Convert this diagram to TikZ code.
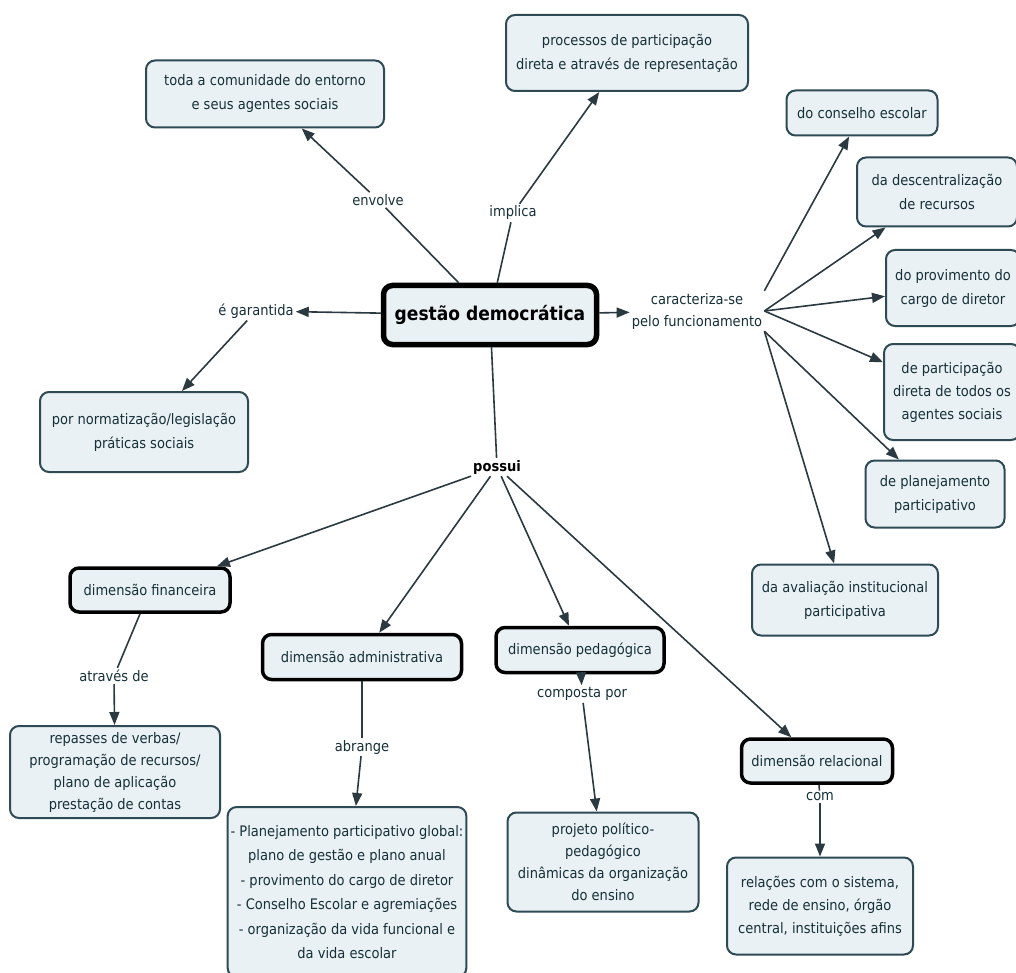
\documentclass[tikz,border=0pt]{standalone}
\usepackage{fontspec}
\setmainfont{DejaVu Sans Condensed}
\usetikzlibrary{arrows.meta}
\definecolor{boxc}{HTML}{EAF1F4}
\definecolor{bordc}{HTML}{2E4A55}
\definecolor{txtc}{HTML}{163038}
\definecolor{linec}{HTML}{2A3A40}
\begin{document}
\begin{tikzpicture}[x=1pt,y=-1pt,
  box/.style={draw=bordc, line width=2pt, fill=boxc, rounded corners=9pt, align=center,
    text=txtc, inner sep=3pt, font=\fontsize{14.5}{24}\selectfont},
  dimbox/.style={box, draw=black, line width=3.5pt},
  mainbox/.style={box, draw=black, line width=5.5pt, font=\fontsize{19}{24}\selectfont\bfseries, text=black},
  lbl/.style={text=txtc, align=center, inner sep=2pt, font=\fontsize{14.5}{24}\selectfont},
  conn/.style={draw=linec, line width=1.6pt},
  arr/.style={conn, -{Triangle[length=13pt,width=10pt]}}]
\useasboundingbox (0,0) rectangle (1016,973);
\clip (0,0) rectangle (1016,973);
\fill[white] (0,0) rectangle (1016,973);

% main
\node[mainbox, minimum width=213pt, minimum height=59pt] (main) at (490,315) {gestão democrática};

% top boxes
\node[box, minimum width=238pt, minimum height=67pt] (toda) at (265,94) {toda a comunidade do entorno\\e seus agentes sociais};
\node[box, minimum width=242pt, minimum height=76pt] (proc) at (627,53) {processos de participação\\direta e através de representação};

% right boxes
\node[box, minimum width=151pt, minimum height=45pt] (cons) at (862,113) {do conselho escolar};
\node[box, minimum width=160pt, minimum height=69pt] (desc) at (937,192) {da descentralização\\de recursos};
\node[box, minimum width=134pt, minimum height=76pt] (prov) at (953,288) {do provimento do\\cargo de diretor};
\node[box, minimum width=136pt, minimum height=96pt, font=\fontsize{14.5}{23}\selectfont] (part) at (952,392) {de participação\\direta de todos os\\agentes sociais};
\node[box, minimum width=139pt, minimum height=67pt] (plan) at (935,494) {de planejamento\\participativo};
\node[box, minimum width=186pt, minimum height=71pt] (aval) at (845,600) {da avaliação institucional\\participativa};

% left
\node[box, minimum width=208pt, minimum height=80pt] (norm) at (144,432) {por normatização/legislação\\práticas sociais};

% dimensions
\node[dimbox, minimum width=160pt, minimum height=44pt] (fin) at (150,590) {dimensão financeira};
\node[dimbox, minimum width=199pt, minimum height=45pt] (adm) at (362,657) {dimensão administrativa};
\node[dimbox, minimum width=168pt, minimum height=45pt] (ped) at (580,650) {dimensão pedagógica};
\node[dimbox, minimum width=151pt, minimum height=44pt] (rel) at (817,761) {dimensão relacional};

% bottom boxes
\node[box, minimum width=210pt, minimum height=92pt, font=\fontsize{14.5}{22}\selectfont] (rep) at (115,772) {repasses de verbas/\\programação de recursos/\\plano de aplicação\\prestação de contas};
\node[box, minimum width=230pt, minimum height=170pt, font=\fontsize{14.5}{24.5}\selectfont] (admb) at (347,892) {- Planejamento participativo global:\\plano de gestão e plano anual\\- provimento do cargo de diretor\\- Conselho Escolar e agremiações\\- organização da vida funcional e\\da vida escolar};
\node[box, minimum width=191pt, minimum height=99pt, font=\fontsize{14.5}{22}\selectfont] (proj) at (603,862) {projeto político-\\pedagógico\\dinâmicas da organização\\do ensino};
\node[box, minimum width=186pt, minimum height=97pt, font=\fontsize{14.5}{23}\selectfont] (relb) at (820,906) {relações com o sistema,\\rede de ensino, órgão\\central, instituições afins};

% labels
\node[lbl] (envolve) at (378,200) {envolve};
\node[lbl] (implica) at (513,213) {implica};
\node[lbl, font=\fontsize{14.5}{22}\selectfont] (carac) at (697,311) {caracteriza-se\\pelo funcionamento};
\node[lbl] (garant) at (256,311) {é garantida};
\node[lbl, text=black, font=\fontsize{14.5}{24}\selectfont\bfseries] (possui) at (497,467) {possui};
\node[lbl] (atraves) at (114,676) {através de};
\node[lbl] (abrange) at (362,747) {abrange};
\node[lbl] (composta) at (582,694) {composta por};
\node[lbl] (com) at (820,797) {com};

% connectors
\draw[conn] (main) -- (envolve);
\draw[arr] (envolve) -- (toda);
\draw[conn] (main) -- (implica);
\draw[arr] (implica) -- (proc);
\draw[arr] (main) -- (carac);
\draw[arr] (carac.north east) -- (cons);
\draw[arr] (carac.east) -- (desc);
\draw[arr] (carac.east) -- (prov);
\draw[arr] (carac.east) -- (part);
\draw[arr] (carac.south east) -- (plan);
\draw[arr] (carac.south east) -- (aval);
\draw[arr] (main) -- (garant);
\draw[arr] (garant) -- (norm);
\draw[conn] (main) -- (possui);
\draw[arr] (possui) -- (fin);
\draw[arr] (possui) -- (adm);
\draw[arr] (possui) -- (ped);
\draw[arr] (possui) -- (rel);
\draw[conn] (fin) -- (atraves);
\draw[arr] (atraves) -- (rep);
\draw[conn] (adm) -- (abrange);
\draw[arr] (abrange) -- (admb);
\draw[arr] (ped) -- (composta);
\draw[arr] (composta) -- (proj);
\draw[conn] (rel) -- (com);
\draw[arr] (com) -- (relb);
\end{tikzpicture}
\end{document}
